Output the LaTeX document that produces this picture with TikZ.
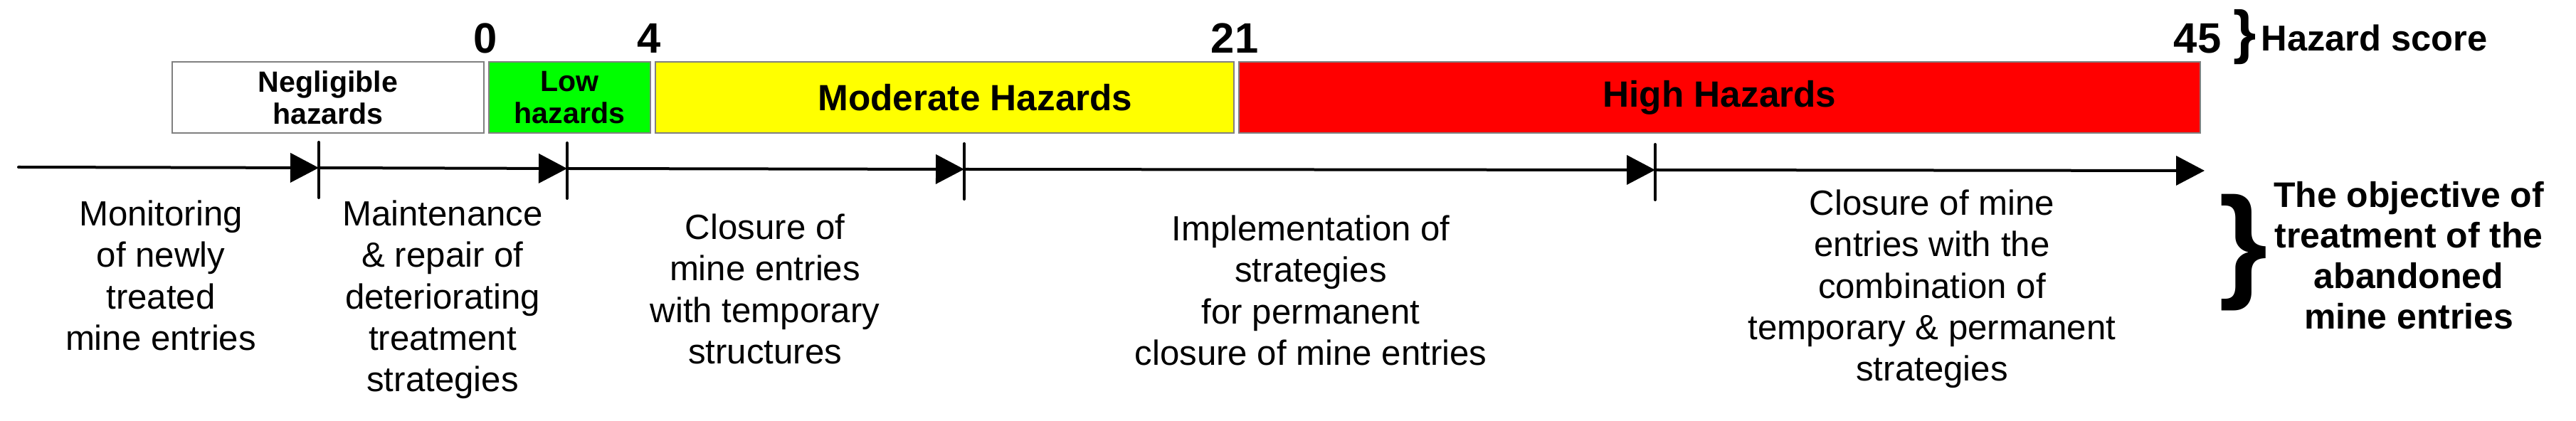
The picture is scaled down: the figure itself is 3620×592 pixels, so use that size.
\documentclass[tikz,border=0pt]{standalone}
\usepackage{fontspec}
\setmainfont{Liberation Sans}
\usetikzlibrary{positioning, arrows.meta}

\definecolor{lowgreen}{RGB}{0,255,0}
\definecolor{modyellow}{RGB}{255,255,0}
\definecolor{highred}{RGB}{255,0,0}
\definecolor{boxgray}{RGB}{128,128,128}

\tikzset{
    hazbox/.style={draw=boxgray, line width=0.25mm, minimum height=10mm, inner sep=0pt, outer sep=0pt, align=center, font=\bfseries\fontsize{11.7}{12.9}\selectfont},
    score/.style={anchor=base, inner sep=0pt, font=\bfseries\fontsize{17}{20}\selectfont},
    treat/.style={anchor=north, inner sep=0pt, align=center, font=\fontsize{14}{16.6}\selectfont},
    timeline/.style={line width=0.4mm, line cap=round, -{Triangle[length=4mm, width=4.1mm]}},
    tickmark/.style={line width=0.4mm, line cap=round},
}

\begin{document}
\begin{tikzpicture}[x=0.1mm, y=-0.1mm]
    \useasboundingbox (0,0) rectangle (3620,592);

    % Hazard classes, side by side
    \node[hazbox, fill=white, minimum width=43.8mm] (negl) at (461,137) {Negligible\\hazards};
    \node[hazbox, fill=lowgreen, minimum width=22.7mm, right=0.7mm of negl] (low) {Low\\hazards};
    \node[hazbox, fill=modyellow, minimum width=81.3mm, right=0.7mm of low] (mod) {};
    \node[font=\bfseries\fontsize{14.6}{17}\selectfont, inner sep=0pt] at ([xshift=4.3mm]mod.center) {Moderate Hazards};
    \node[hazbox, fill=highred, minimum width=135.1mm, right=0.7mm of mod, font=\bfseries\fontsize{14.6}{17}\selectfont] (high) {High Hazards};

    % Score limits
    \node[score] (s0) at (682,75) {0};
    \node[score] (s4) at (912,75) {4};
    \node[score] (s21) at (1735,75) {21};
    \node[score] (s45) at (3088,75) {45};
    \node[inner sep=0pt, font=\bfseries\fontsize{23.6}{24}\selectfont] (scorebrace) at (3155,52) {\}};
    \node[anchor=base west, inner sep=0pt, font=\bfseries\fontsize{14.4}{17}\selectfont] (scorename) at (3177,72) {Hazard score};

    % Time line with its steps
    \coordinate (t0) at (26,235);
    \coordinate (t1) at (448,236);
    \coordinate (t2) at (797,237);
    \coordinate (t3) at (1355,238);
    \coordinate (t4) at (2326,239);
    \coordinate (t5) at (3098,240);
    \draw[timeline] (t0) -- (t1);
    \draw[timeline] (t1) -- (t2);
    \draw[timeline] (t2) -- (t3);
    \draw[timeline] (t3) -- (t4);
    \draw[timeline] (t4) -- (t5);
    \foreach \t in {t1,t2,t3,t4}
        \draw[tickmark] ([yshift=3.6mm]\t) -- ([yshift=-4.2mm]\t);

    % Treatment for each step
    \node[treat] (monitor) at (226,281) {Monitoring\\of newly\\treated\\mine entries};
    \node[treat] (maint) at (622,281) {Maintenance\\\& repair of\\deteriorating\\treatment\\strategies};
    \node[treat] (temp) at (1075,300) {Closure of\\mine entries\\with temporary\\structures};
    \node[treat] (perm) at (1842,302) {Implementation of\\strategies\\for permanent\\closure of mine entries};
    \node[treat] (combo) at (2715,266) {Closure of mine\\entries with the\\combination of\\temporary \& permanent\\strategies};

    % Objective
    \node[inner sep=0pt, font=\bfseries\fontsize{50}{50}\selectfont] (goalbrace) at (3153,355) {\}};
    \node[treat, font=\bfseries\fontsize{14.2}{16.2}\selectfont] (goal) at (3385,255) {The objective of\\treatment of the\\abandoned\\mine entries};
\end{tikzpicture}
\end{document}
